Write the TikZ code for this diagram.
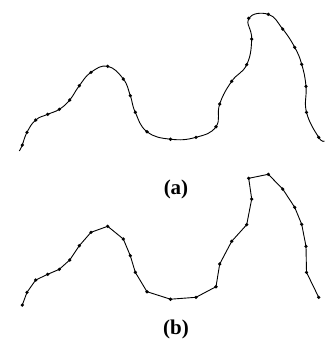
\documentclass[tikz,border=0pt]{standalone}
\usepackage{fontspec}
\setmainfont{Liberation Serif}
\usepackage{tikz}

\tikzset{
    dotpt/.style={fill=black, circle, inner sep=0pt, minimum size=3.6pt},
    curveline/.style={line width=0.9pt, black},
    caption/.style={font=\fontsize{21}{21}\selectfont\bfseries}
}

\begin{document}
\begin{tikzpicture}[x=1pt, y=-1pt]
    \useasboundingbox (0,0) rectangle (325,341);

    % (a) smooth curve through the sample points
    \draw[curveline] plot[smooth, tension=0.75] coordinates {
        (19.3,151) (22.3,145) (27,132.3) (35.7,120) (47.7,114.3) (59.3,109.3)
        (69.7,100) (79.3,85.7) (91,72.3) (107.7,66.3) (123.3,79)
        (130.3,95.7) (135.3,112.3) (147,131.7) (170.5,139.2) (196,137.3)
        (216,126.7) (219.7,104) (231.7,81.3) (246.7,64.7) (251.7,39)
        (248.7,18.3) (268.3,14.3) (282.7,29) (294.7,47.3) (301.7,64.3)
        (306,86.3) (306.5,112.3) (318.7,137.3) (324.5,141)};

    % (b) polyline through the same points, shifted down
    \draw[curveline, yshift=-160pt] plot coordinates {
        (22.3,145) (27,132.3) (35.7,120) (47.7,114.3) (59.3,109.3)
        (69.7,100) (79.3,85.7) (91,72.3) (107.7,66.3) (123.3,79)
        (130.3,95.7) (135.3,112.3) (147,131.7) (170.5,139.2) (196,137.3)
        (216,126.7) (219.7,104) (231.7,81.3) (246.7,64.7) (251.7,39)
        (248.7,18.3) (268.3,14.3) (282.7,29) (294.7,47.3) (301.7,64.3)
        (306,86.3) (306.5,112.3) (318.7,137.3)};

    % dots on both curves
    \foreach \x/\y in {22.3/145, 27/132.3, 35.7/120, 47.7/114.3, 59.3/109.3,
        69.7/100, 79.3/85.7, 91/72.3, 107.7/66.3, 123.3/79,
        130.3/95.7, 135.3/112.3, 147/131.7, 170.5/139.2, 196/137.3,
        216/126.7, 219.7/104, 231.7/81.3, 246.7/64.7, 251.7/39,
        248.7/18.3, 268.3/14.3, 282.7/29, 294.7/47.3, 301.7/64.3,
        306/86.3, 306.5/112.3, 318.7/137.3} {
        \node[dotpt] at (\x,\y) {};
        \node[dotpt] at (\x,\y+160) {};
    }

    \node[caption] (capa) at (176,189) {(a)};
    \node[caption] (capb) at (176,329) {(b)};
\end{tikzpicture}
\end{document}
